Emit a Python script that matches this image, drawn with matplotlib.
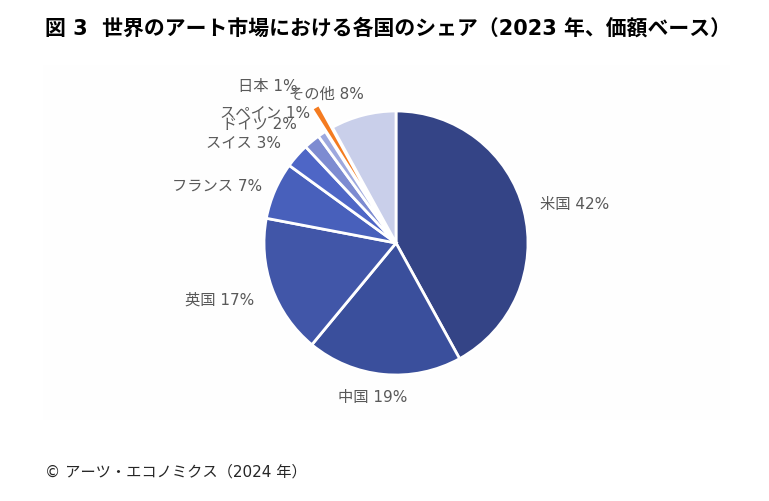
import matplotlib.pyplot as plt
from matplotlib.patches import Rectangle

plt.rcParams['font.family'] = ['DejaVu Sans', 'Noto Sans CJK JP']

countries = ['米国', '中国', '英国', 'フランス', 'スイス', 'ドイツ', 'スペイン', '日本', 'その他']
shares = [42, 19, 17, 7, 3, 2, 1, 1, 8]
colors = ['#344486', '#3a4f9c', '#4156a8', '#4860bb', '#4e66c6',
          '#7d8bd1', '#9da8de', '#f47b20', '#c9cfea']
explode = [0, 0, 0, 0, 0, 0, 0, 0.2, 0]

# label positions in pixels (x, y from top)
label_px = [(575, 205), (373, 398), (220, 300), (217, 186), (244, 143),
            (259, 124), (265, 113), (268, 86), (326, 94)]

W, H = 769, 501
cx, cy, r = 396, 243, 132

fig = plt.figure(figsize=(W / 100, H / 100), dpi=100)
ax = fig.add_axes([0, 0, 1, 1])

# faint plot area
ax.add_patch(Rectangle(((43 - cx) / r, (cy - 420) / r), (730 - 43) / r, (420 - 65) / r,
                       facecolor='#fefefe', edgecolor='none', zorder=0))

ax.pie(shares, colors=colors, startangle=90, counterclock=False, explode=explode,
       radius=1, wedgeprops=dict(edgecolor='white', linewidth=2))

ax.set_xlim(-cx / r, (W - cx) / r)
ax.set_ylim(-(H - cy) / r, cy / r)
ax.set_aspect('equal')
ax.axis('off')

for name, val, (px, py) in zip(countries, shares, label_px):
    ax.text((px - cx) / r, (cy - py) / r, f'{name} {val}%', ha='center', va='center',
            fontsize=11, color='#595959')

fig.text(45 / W, 1 - 28 / H, '図 3  世界のアート市場における各国のシェア（2023 年、価額ベース）',
         fontsize=15, fontweight='bold', color='black', ha='left', va='center')
fig.text(45 / W, 1 - 472 / H, '© アーツ・エコノミクス（2024 年）',
         fontsize=11, color='#262626', ha='left', va='center')

fig.savefig('out.png', dpi=100)
